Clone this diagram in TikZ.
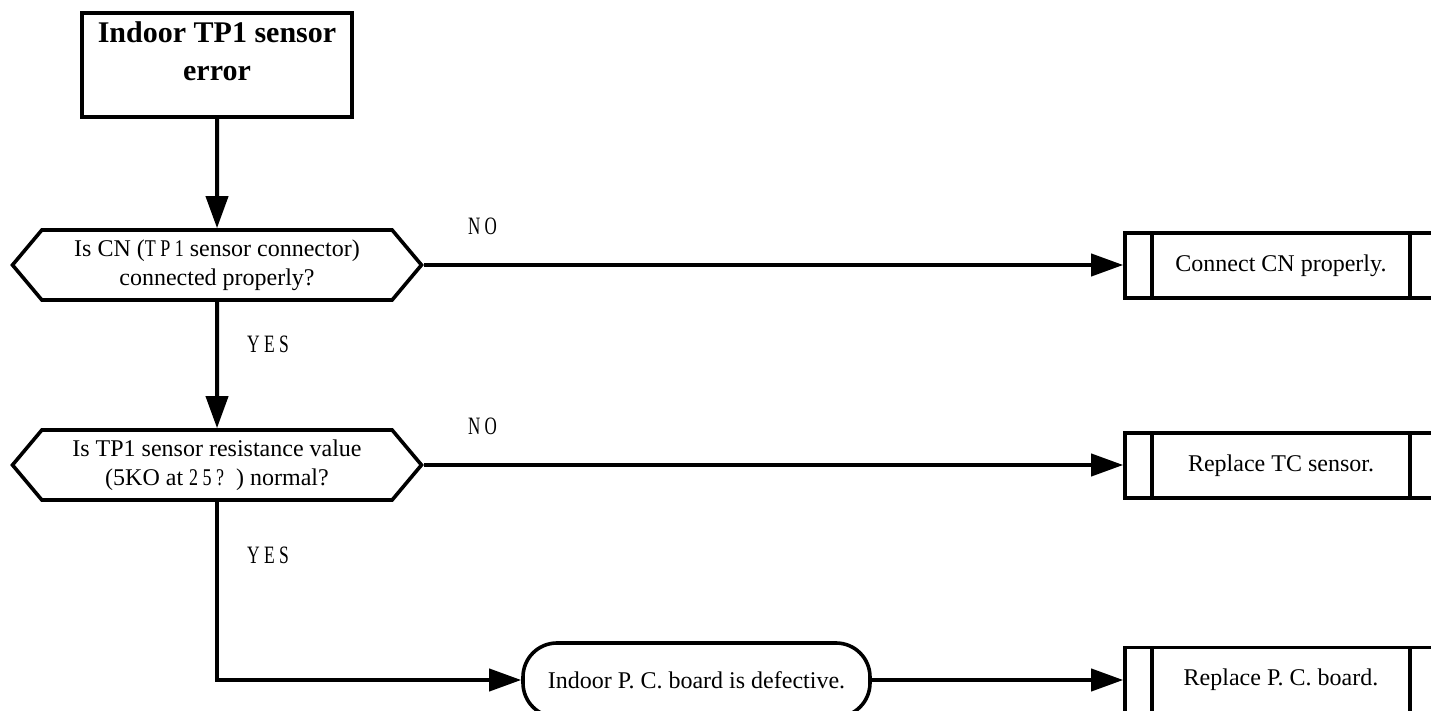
\documentclass[tikz,border=0pt]{standalone}
\usepackage{fontspec}
\setmainfont{Liberation Serif}
\usepackage{graphicx}
\usetikzlibrary{arrows.meta,shapes.symbols,positioning}

\tikzset{
    flow/.style={line width=2pt,-{Triangle[length=16pt,width=11pt]}},
    plain/.style={line width=2pt},
    startbox/.style={draw,line width=1.8pt,minimum width=135pt,minimum height=52pt,
        align=center,font=\fontsize{15}{19}\selectfont\bfseries},
    decision/.style={draw,line width=1.8pt,signal,signal to=west and east,
        signal pointer angle=100,minimum width=204.5pt,minimum height=35pt,
        inner sep=0pt,align=center,font=\fontsize{12}{14.5}\selectfont},
    procbox/.style={draw,line width=1.8pt,minimum width=156pt,minimum height=32.5pt,
        font=\fontsize{12}{14.5}\selectfont,
        path picture={
            \draw[line width=1.8pt]
                ([xshift=13.5pt]path picture bounding box.north west) --
                ([xshift=13.5pt]path picture bounding box.south west)
                ([xshift=-13.5pt]path picture bounding box.north east) --
                ([xshift=-13.5pt]path picture bounding box.south east);
        }},
    termbox/.style={draw,line width=1.8pt,rounded corners=17pt,minimum width=173.5pt,
        minimum height=37pt,font=\fontsize{12}{14.5}\selectfont},
    answer/.style={inner sep=0pt,font=\fontsize{12.5}{14}\selectfont}
}

\begin{document}
\begin{tikzpicture}[x=0.5pt,y=-0.5pt]
    \useasboundingbox (0,0) rectangle (1431,711);
    \clip (0,0) rectangle (1431,711);

    % Start
    \node[startbox] (start) at (217,65) {Indoor TP1 sensor\\error\\[-5pt]\mbox{}};

    % Checks
    \node[decision] (conn) at (217,265)
        {Is CN (\scalebox{0.75}[1]{T P 1} sensor connector)\\connected properly?};
    \node[decision] (resist) at (217,465)
        {Is TP1 sensor resistance value\\(5KO at \scalebox{0.75}[1]{2 5 ?}\enspace) normal?};

    % Outcomes
    \node[termbox] (board) at (696.5,680) {Indoor P. C. board is defective.};

    \node[procbox] (fixconn) at (1281,265.5) {Connect CN properly.};
    \node[procbox] (fixsens) at (1281,465.5) {Replace TC sensor.};
    \node[procbox] (fixboard) at (1281,680) {Replace P. C. board.};

    % Arrows
    \draw[flow] (start) -- (conn);
    \draw[flow] (conn) -- node[answer,pos=0.34,right=14pt] (yes1) {\scalebox{0.7}[1]{Y E S}} (resist);
    \draw[flow] (resist.south) |- node[answer,pos=0.15,right=14pt] (yes2) {\scalebox{0.7}[1]{Y E S}} (board.west);

    \draw[flow] (conn.east) -- node[answer,pos=0.084,above=14pt] (no1) {\scalebox{0.68}[1]{N O}} (conn.east -| fixconn.west);
    \draw[flow] (resist.east) -- node[answer,pos=0.084,above=14pt] (no2) {\scalebox{0.68}[1]{N O}} (resist.east -| fixsens.west);
    \draw[flow] (board.east) -- (board.east -| fixboard.west);
\end{tikzpicture}
\end{document}
